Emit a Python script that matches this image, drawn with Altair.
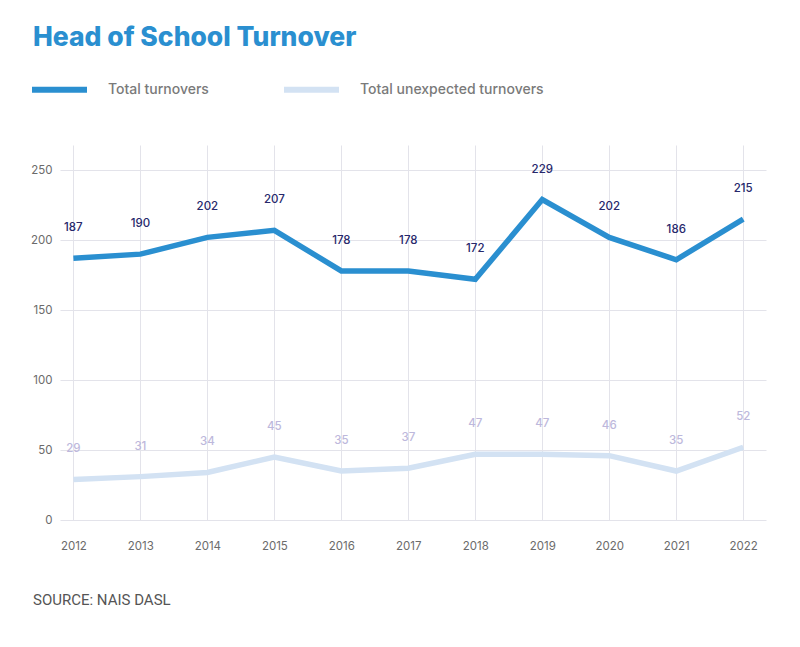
import altair as alt
import pandas as pd

years = [2012, 2013, 2014, 2015, 2016, 2017, 2018, 2019, 2020, 2021, 2022]
total = [187, 190, 202, 207, 178, 178, 172, 229, 202, 186, 215]
unexpected = [29, 31, 34, 45, 35, 37, 47, 47, 46, 35, 52]
series_names = ["Total turnovers", "Total unexpected turnovers"]
y_ticks = [0, 50, 100, 150, 200, 250]

df = pd.DataFrame({
    "year": years * 2,
    "value": total + unexpected,
    "series": [series_names[0]] * len(years) + [series_names[1]] * len(years),
})

FONT = "Inter"
W, H = 706, 375

xenc = alt.X("year:Q",
             scale=alt.Scale(domain=[2011.8, 2022.34], nice=False, zero=False),
             axis=alt.Axis(values=years, format="d", title=None, grid=True, domain=False,
                           ticks=False, labelPadding=20, labelFontSize=11.5,
                           labelColor="#6b6b6b", labelFont=FONT, gridColor="#e3e3ea"))
yenc = alt.Y("value:Q",
             scale=alt.Scale(domain=[0, 268], nice=False),
             axis=alt.Axis(values=y_ticks, title=None, grid=True, domain=False, ticks=False,
                           labelPadding=8, labelFontSize=11.5, labelColor="#6b6b6b",
                           labelFont=FONT, gridColor="#e3e3ea"))

lines = alt.Chart(df).mark_line(strokeWidth=5.5).encode(
    x=xenc, y=yenc,
    color=alt.Color("series:N",
                    scale=alt.Scale(domain=series_names, range=["#2a8fd0", "#d3e2f3"]),
                    legend=alt.Legend(title=None, orient="none", legendX=-31, legendY=-86,
                                      direction="horizontal", symbolType="stroke",
                                      symbolSize=3025, symbolStrokeWidth=6,
                                      labelFont=FONT, labelFontSize=14, labelFontWeight=500,
                                      labelColor="#7a7a7a",
                                      labelOffset=18, columnPadding=63, labelLimit=400)),
)

lab_total = alt.Chart(df).transform_filter(
    alt.datum.series == series_names[0]
).mark_text(dy=-30, fontSize=11.5, font=FONT, fontWeight=500, color="#27286b").encode(
    x="year:Q", y="value:Q", text="value:Q")

lab_unexp = alt.Chart(df).transform_filter(
    alt.datum.series == series_names[1]
).mark_text(dy=-30, fontSize=11.5, font=FONT, fontWeight=500, color="#bdb8dc").encode(
    x="year:Q", y="value:Q", text="value:Q")

title = alt.Chart(pd.DataFrame({"t": ["Head of School Turnover"]})).mark_text(
    align="left", baseline="alphabetic", fontSize=26.5, font=FONT, fontWeight=800,
    color="#2a8fd0").encode(x=alt.value(-27), y=alt.value(-99), text="t:N")

source = alt.Chart(pd.DataFrame({"t": ["SOURCE: NAIS DASL"]})).mark_text(
    align="left", baseline="middle", fontSize=15, font="Roboto",
    color="#555555").encode(x=alt.value(-27), y=alt.value(H + 80), text="t:N")

chart = alt.layer(lines, lab_total, lab_unexp, title, source).properties(
    width=W, height=H,
    autosize=alt.AutoSizeParams(type="none"),
    padding={"left": 52, "top": 137, "right": 26, "bottom": 112},
).configure_view(stroke=None)

chart.save("out.html", embed_options={"renderer": "svg", "actions": False})
